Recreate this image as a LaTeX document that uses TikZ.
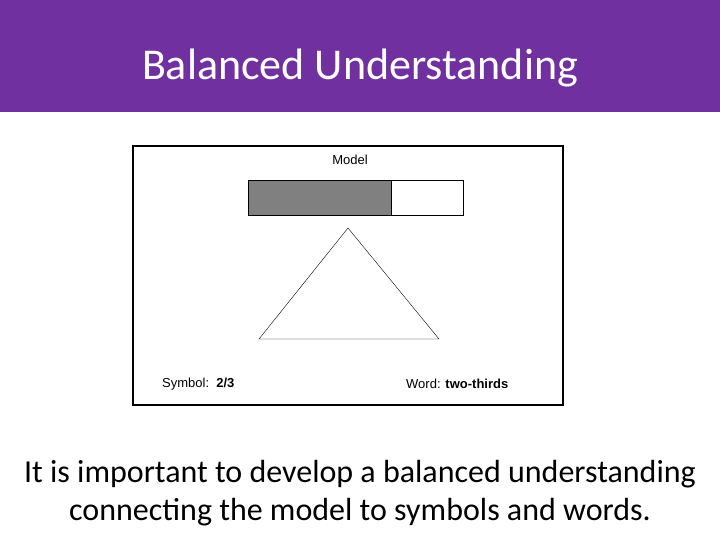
\documentclass[tikz,border=0pt]{standalone}
\usepackage{fontspec}
\setmainfont{Carlito}
\newfontfamily\labelfont{Liberation Sans}
\usetikzlibrary{positioning}
\definecolor{header}{HTML}{7030A0}
\definecolor{barfill}{HTML}{808080}
\begin{document}
\begin{tikzpicture}[x=1pt,y=-1pt,
  lbl/.style={font=\labelfont\fontsize{13}{15}\selectfont, inner sep=0pt, anchor=west}
]
  \useasboundingbox (0,0) rectangle (720,540);
  \fill[header] (0,0) rectangle (720,112);
  \node[text=white, font=\fontsize{44}{52}\selectfont] (title) at (360,68) {Balanced Understanding};

  % picture frame
  \draw[line width=1.2pt] (133,146) rectangle (563,405);
  \node[lbl, anchor=center] (model) at (350,160) {Model};
  \draw[fill=barfill] (248,180) rectangle (391,215);
  \draw (391,180) rectangle (463,215);
  \draw (348,228) -- (259,339) -- (439,339) -- cycle;
  \node[lbl] (symbol) at (162,384) {Symbol:\ \ \textbf{2/3}};
  \node[lbl] (word) at (406,384) {Word: \textbf{two-thirds}};

  \node[font=\fontsize{32}{38}\selectfont, align=center] (caption) at (360,493)
    {It is important to develop a balanced understanding\\connecting the model to symbols and words.};
\end{tikzpicture}
\end{document}
